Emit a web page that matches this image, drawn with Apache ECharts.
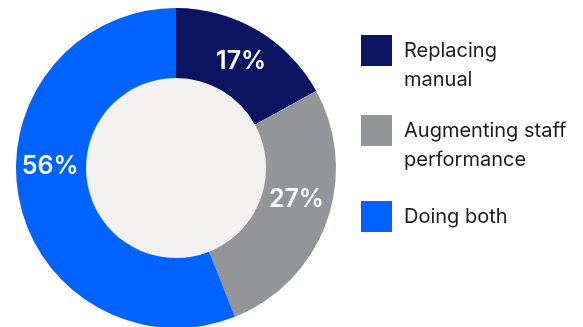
<!DOCTYPE html>
<html>
<head>
<meta charset="utf-8">
<script src="https://cdn.jsdelivr.net/npm/echarts@6/dist/echarts.min.js"></script>
<style>
  html, body { margin: 0; padding: 0; background: #ffffff; }
  #chart { width: 583px; height: 327px; }
</style>
</head>
<body>
<div id="chart"></div>
<script>
// Share of respondents by approach
const categories = ['Replacing manual', 'Augmenting staff performance', 'Doing both'];
const legendLines = [['Replacing', 'manual'], ['Augmenting staff', 'performance'], ['Doing both']];
const values = [17, 27, 56];
const colors = ['#0b1460', '#939598', '#0062ff'];
// vertical nudge of each percentage label, in px
const labelNudge = [4, -12, -26];

const FONT = 'Inter, "Noto Sans", sans-serif';

const chart = echarts.init(document.getElementById('chart'), null, { renderer: 'canvas' });

const ringData = categories.map((name, i) => ({
  name: name,
  value: values[i],
  itemStyle: { color: colors[i] },
  label: { offset: [0, labelNudge[i]] }
}));

// Legend text: the first line sits level with the swatch; a leading empty
// line keeps a two-line label's first line on the swatch's centre.
function legendText(lines) {
  const body = lines.map(l => '{t|' + l + '}').join('\n');
  return lines.length > 1 ? '{t|}\n' + body : body;
}

// one legend block per category so each row sits at its own height
const legendTops = [7, 87, 201];
const legends = categories.map((name, i) => ({
  show: true,
  orient: 'vertical',
  left: 361,
  top: legendTops[i],
  data: [{ name: name, icon: 'rect' }],
  itemWidth: 31,
  itemHeight: 31,
  itemGap: 0,
  padding: 0,
  selectedMode: false,
  formatter: () => legendText(legendLines[i]),
  textStyle: {
    fontFamily: FONT,
    fontSize: 20,
    color: '#1b1b1b',
    lineHeight: 29,
    rich: {
      t: {
        fontFamily: FONT,
        fontSize: 20,
        color: '#1b1b1b',
        lineHeight: 29,
        padding: [0, 0, 0, 7]
      }
    }
  }
}));

chart.setOption({
  animation: false,
  backgroundColor: '#ffffff',
  legend: legends,
  series: [
    {
      type: 'pie',
      name: 'core',
      center: [176, 168],
      radius: [0, 90],
      silent: true,
      label: { show: false },
      labelLine: { show: false },
      data: [{ name: '', value: 1, itemStyle: { color: '#f2f1f0' } }]
    },
    {
      type: 'pie',
      name: 'approach',
      center: [176, 168],
      radius: [90, 160],
      startAngle: 90,
      clockwise: true,
      silent: true,
      avoidLabelOverlap: false,
      itemStyle: { borderWidth: 0 },
      label: {
        show: true,
        position: 'inside',
        formatter: '{c}%',
        fontFamily: FONT,
        fontSize: 25,
        fontWeight: 600,
        color: '#ffffff'
      },
      labelLine: { show: false },
      data: ringData
    }
  ]
});
</script>
</body>
</html>
